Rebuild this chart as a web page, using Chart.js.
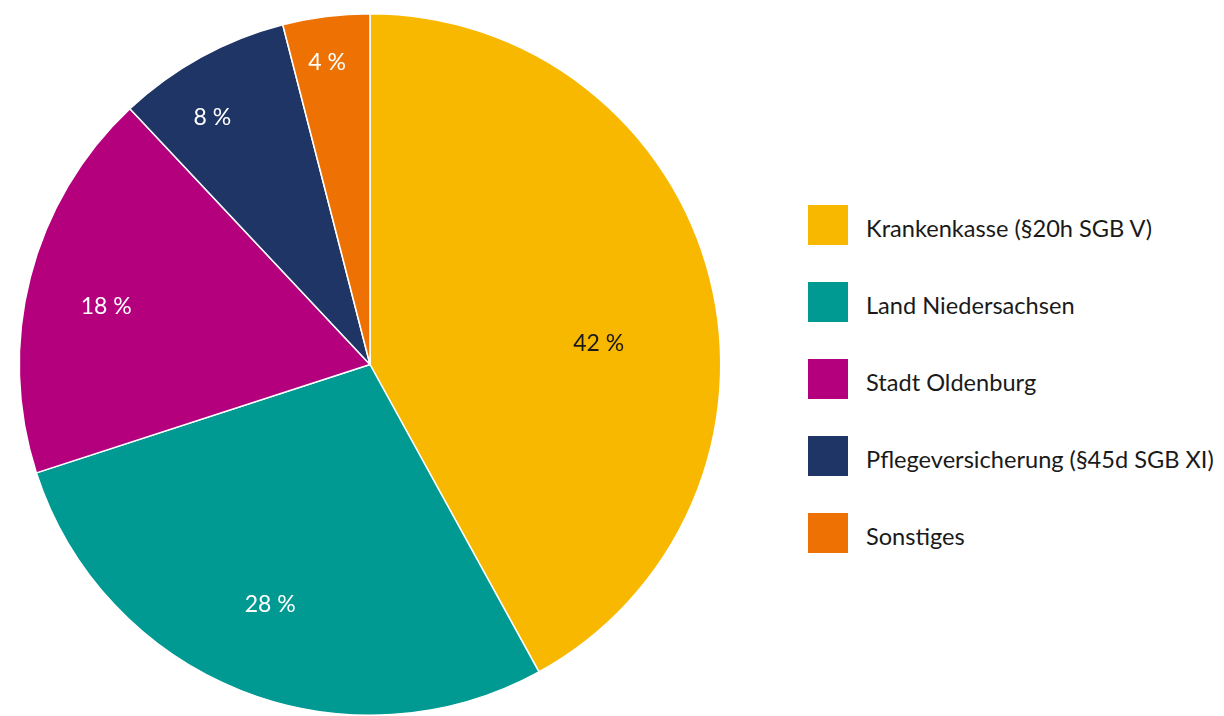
<!DOCTYPE html>
<html>
<head>
<meta charset="utf-8">
<script src="https://cdn.jsdelivr.net/npm/chart.js@4"></script>
<style>
  html, body { margin: 0; padding: 0; background: #fff; }
  body { width: 1224px; height: 716px; position: relative; overflow: hidden; font-family: Lato, "Open Sans", sans-serif; }
  #pie { position: absolute; left: 0; top: 0; }
  #legend { position: absolute; left: 808px; top: 205px; }
  .item { position: relative; height: 77px; }
  .box { position: absolute; left: 0; top: 0; width: 40px; height: 40px; }
  .txt { position: absolute; left: 58px; top: 6px; font-size: 23.6px; line-height: 34px; color: #1a1a1a; white-space: nowrap; }
</style>
</head>
<body>
<canvas id="pie" width="740" height="716"></canvas>
<div id="legend"></div>
<script>
const categories = ['Krankenkasse (§20h SGB V)', 'Land Niedersachsen', 'Stadt Oldenburg', 'Pflegeversicherung (§45d SGB XI)', 'Sonstiges'];
const shares = [42, 28, 18, 8, 4];
const colors = ['#F9B800', '#009A93', '#B5007E', '#1F3566', '#EE7203'];
const labelColors = ['#1a1a1a', '#ffffff', '#ffffff', '#ffffff', '#ffffff'];

// where inside each slice the percentage sits: [share of slice angle, share of radius]
const labelSpots = [[0.56, 0.655], [0.51, 0.74], [0.47, 0.77], [0.37, 0.835], [0.44, 0.87]];

const sliceLabels = {
    id: 'sliceLabels',
    afterDatasetsDraw(chart) {
        const ctx = chart.ctx;
        const meta = chart.getDatasetMeta(0);
        ctx.save();
        ctx.font = '23px Lato, "Open Sans", sans-serif';
        ctx.textAlign = 'center';
        ctx.textBaseline = 'middle';
        meta.data.forEach((arc, i) => {
            const p = arc.getProps(['x', 'y', 'startAngle', 'endAngle', 'outerRadius'], true);
            const a = p.startAngle + (p.endAngle - p.startAngle) * labelSpots[i][0];
            const r = p.outerRadius * labelSpots[i][1];
            ctx.fillStyle = labelColors[i];
            ctx.fillText(shares[i] + ' %', p.x + Math.cos(a) * r, p.y + Math.sin(a) * r);
        });
        ctx.restore();
    }
};

new Chart(document.getElementById('pie'), {
    type: 'pie',
    data: {
        labels: categories,
        datasets: [{
            data: shares,
            backgroundColor: colors,
            borderColor: '#ffffff',
            borderWidth: 1.5
        }]
    },
    options: {
        responsive: false,
        animation: false,
        layout: { padding: { top: 13, bottom: 0, left: 0, right: 0 } },
        plugins: {
            legend: { display: false },
            tooltip: { enabled: false }
        }
    },
    plugins: [sliceLabels]
});

const legend = document.getElementById('legend');
categories.forEach((name, i) => {
    const item = document.createElement('div');
    item.className = 'item';
    item.innerHTML = '<div class="box" style="background:' + colors[i] + '"></div><div class="txt"></div>';
    item.querySelector('.txt').textContent = name;
    legend.appendChild(item);
});
</script>
</body>
</html>
